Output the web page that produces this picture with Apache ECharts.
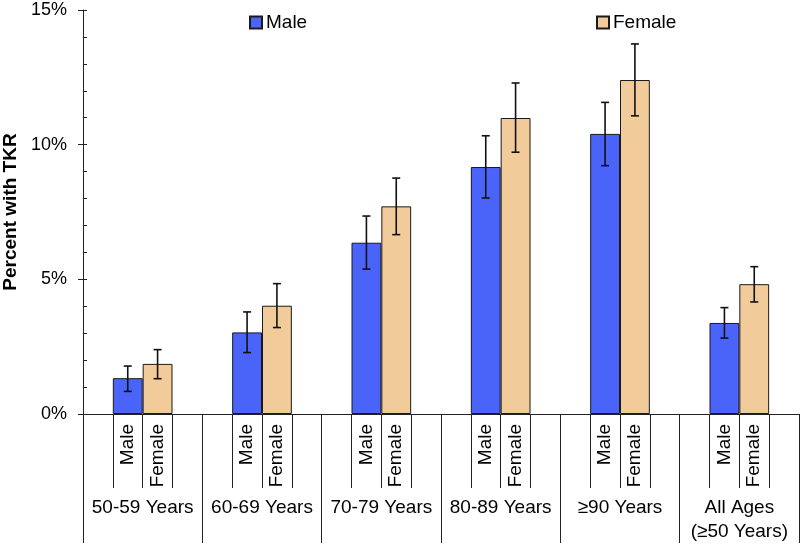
<!DOCTYPE html>
<html>
<head>
<meta charset="utf-8">
<script src="https://cdn.jsdelivr.net/npm/echarts@6/dist/echarts.min.js"></script>
<style>html,body{margin:0;padding:0;background:#fff}#c{width:800px;height:545px}</style>
</head>
<body>
<div id="c"></div>
<script>
const categories = ['50-59 Years','60-69 Years','70-79 Years','80-89 Years','\u226590 Years','All Ages\n(\u226550 Years)'];
const sexLabels = ['Male','Female'];
const male      = [1.33, 3.03, 6.36, 9.17, 10.40, 3.38];
const maleLow   = [0.84, 2.28, 5.38, 8.02, 9.22, 2.82];
const maleHigh  = [1.78, 3.79, 7.35, 10.33, 11.57, 3.95];
const female     = [1.86, 4.02, 7.71, 10.99, 12.40, 4.82];
const femaleLow  = [1.31, 3.21, 6.66, 9.72, 11.07, 4.16];
const femaleHigh = [2.39, 4.84, 8.76, 12.29, 13.74, 5.47];
const yTicks = [0, 5, 10, 15];

const FONT = 'Liberation Sans, Arial, sans-serif';
const BLUE = '#4A64FA';
const TAN = '#F2CB9B';

// sub-axis: 4 slots per group: blank, Male, Female, blank
const subCats = [];
categories.forEach(function () { subCats.push('', sexLabels[0], sexLabels[1], ''); });

function errSeries(name, low, high, sign) {
  return {
    type: 'custom', name: name, xAxisIndex: 0, yAxisIndex: 0, z: 5,
    data: low.map(function (l, i) { return [i, l, high[i]]; }),
    renderItem: function (params, api) {
      const bw = api.size([1, 0])[0];
      const off = sign * bw * 0.125;
      const lo = api.coord([api.value(0), api.value(1)]);
      const hi = api.coord([api.value(0), api.value(2)]);
      const x = lo[0] + off;
      const cap = 4;
      const st = { stroke: '#111', lineWidth: 1.6 };
      return { type: 'group', children: [
        { type: 'line', shape: { x1: x, y1: lo[1], x2: x, y2: hi[1] }, style: st },
        { type: 'line', shape: { x1: x - cap, y1: lo[1], x2: x + cap, y2: lo[1] }, style: st },
        { type: 'line', shape: { x1: x - cap, y1: hi[1], x2: x + cap, y2: hi[1] }, style: st }
      ]};
    }
  };
}

const chart = echarts.init(document.getElementById('c'), null, { renderer: 'canvas' });
chart.setOption({
  animation: false,
  backgroundColor: '#fff',
  textStyle: { fontFamily: FONT, color: '#000' },
  grid: { left: 83, right: 1, top: 10, bottom: 131, containLabel: false, outerBoundsMode: 'none' },
  legend: [
    { data: [sexLabels[0]], left: 244, top: 8, itemWidth: 12, itemHeight: 12, itemGap: 5, icon: 'rect',
      textStyle: { fontFamily: FONT, fontSize: 19, color: '#000', padding: [0,0,0,-1] } },
    { data: [sexLabels[1]], left: 591, top: 8, itemWidth: 12, itemHeight: 12, itemGap: 5, icon: 'rect',
      textStyle: { fontFamily: FONT, fontSize: 19, color: '#000', padding: [0,0,0,-1] } }
  ],
  xAxis: [
    { type: 'category', data: categories, position: 'bottom', boundaryGap: true,
      axisLine: { show: true, lineStyle: { color: '#222', width: 1 } },
      axisTick: { show: true, interval: 0, length: 129, lineStyle: { color: '#222', width: 1 } },
      axisLabel: { interval: 0, margin: 82, fontSize: 19, lineHeight: 24, color: '#000', fontFamily: FONT, align: 'center' },
      splitLine: { show: false } },
    { type: 'category', data: subCats, position: 'bottom', boundaryGap: true, gridIndex: 0,
      axisLine: { show: false },
      axisTick: { show: true, interval: function (idx) { return idx % 4 !== 0; }, length: 74, lineStyle: { color: '#222', width: 1 } },
      axisLabel: { interval: 0, rotate: 90, margin: 10, fontSize: 19, color: '#000', fontFamily: FONT },
      splitLine: { show: false } }
  ],
  yAxis: [
    { type: 'value', min: yTicks[0], max: yTicks[yTicks.length - 1], interval: yTicks[1] - yTicks[0],
      name: 'Percent with TKR', nameLocation: 'middle', nameGap: 63,
      nameTextStyle: { fontFamily: FONT, fontSize: 19, fontWeight: 'bold', color: '#000' },
      axisLine: { show: true, lineStyle: { color: '#222', width: 1 } },
      axisTick: { show: true, length: 5, lineStyle: { color: '#222' } },
      axisLabel: { formatter: '{value}%', fontSize: 18, color: '#000', margin: 16, fontFamily: FONT },
      splitLine: { show: false } },
    { type: 'value', min: yTicks[0], max: yTicks[yTicks.length - 1], interval: yTicks[1] - yTicks[0], position: 'left',
      axisLine: { show: false },
      axisTick: { show: true, inside: true, length: 4, lineStyle: { color: '#222' } },
      minorTick: { show: true, splitNumber: 5, length: 4, lineStyle: { color: '#222' } },
      axisLabel: { show: false },
      splitLine: { show: false } }
  ],
  series: [
    { name: sexLabels[0], type: 'bar', xAxisIndex: 0, yAxisIndex: 0, data: male, barWidth: '25%', barGap: '0%',
      itemStyle: { color: BLUE, borderColor: '#1a1a1a', borderWidth: 1 } },
    { name: sexLabels[1], type: 'bar', xAxisIndex: 0, yAxisIndex: 0, data: female, barWidth: '25%', barGap: '0%',
      itemStyle: { color: TAN, borderColor: '#1a1a1a', borderWidth: 1 } },
    errSeries('maleErr', maleLow, maleHigh, -1),
    errSeries('femaleErr', femaleLow, femaleHigh, 1)
  ]
});
</script>
</body>
</html>
